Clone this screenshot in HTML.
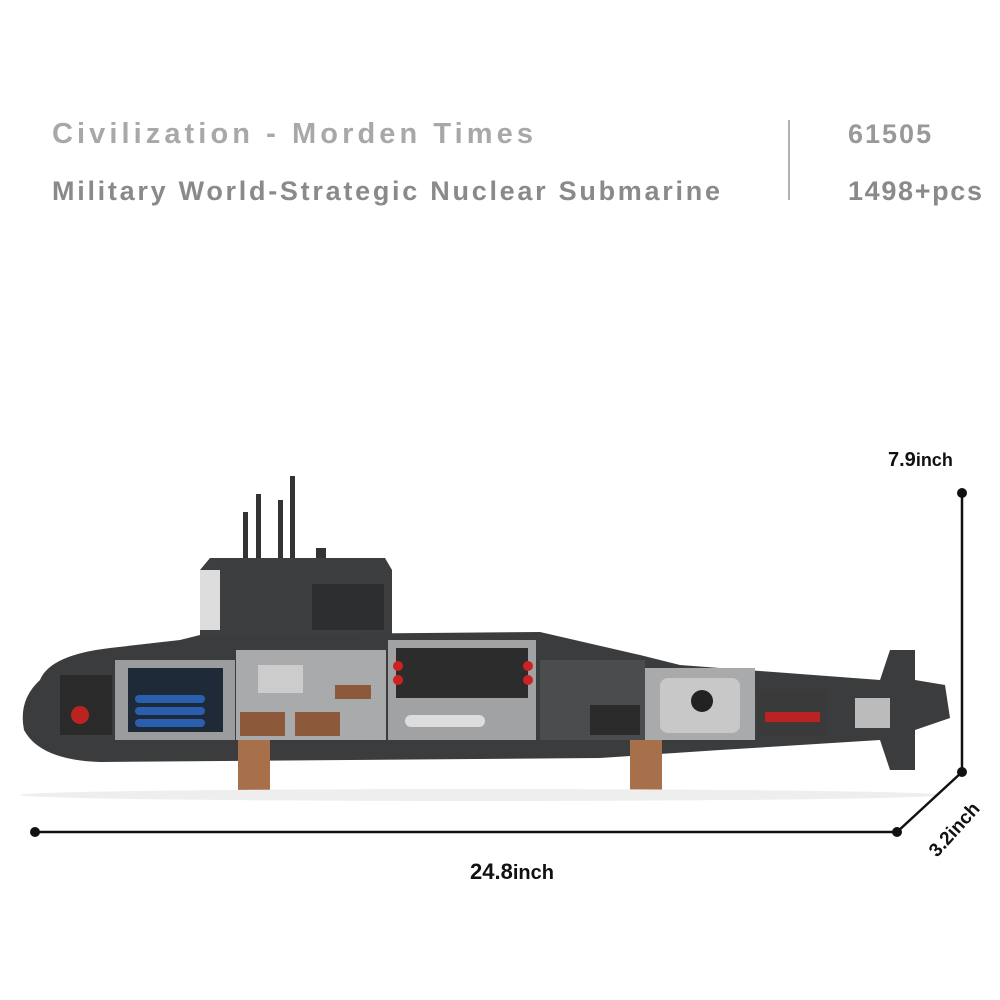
<!DOCTYPE html>
<html><head><meta charset="utf-8"><style>
html,body{margin:0;padding:0;background:#fff;width:1000px;height:1000px;overflow:hidden}
svg{display:block}
text{font-family:"Liberation Sans",sans-serif;font-weight:bold}
</style></head><body>
<svg width="1000" height="1000" viewBox="0 0 1000 1000">
<rect width="1000" height="1000" fill="#fff"/>
<text x="52" y="143" font-size="29" fill="#a8a8a8" textLength="481">Civilization - Morden Times</text>
<text x="52" y="200" font-size="27" fill="#8a8a8a" textLength="668">Military World-Strategic Nuclear Submarine</text>
<line x1="789" y1="120" x2="789" y2="200" stroke="#999" stroke-width="1.5"/>
<text x="848" y="143" font-size="27" fill="#999" letter-spacing="2">61505</text>
<text x="848" y="200" font-size="27" fill="#8a8a8a" textLength="134">1498+pcs</text>

<g fill="#333">
<rect x="243" y="512" width="5" height="50"/><rect x="256" y="494" width="5" height="68"/>
<rect x="278" y="500" width="5" height="62"/><rect x="290" y="476" width="5" height="86"/>
<rect x="316" y="548" width="10" height="16"/>
</g>
<path d="M200 570 L210 558 L385 558 L392 570 L392 640 L200 640 Z" fill="#3c3e40"/>
<rect x="200" y="570" width="20" height="60" fill="#ddd"/>
<rect x="312" y="584" width="72" height="46" fill="#2c2e30"/>
<path d="M40 680 Q50 655 110 648 L180 640 L200 635 L540 632 L640 655 L680 665 L880 680 L890 650 L915 650 L915 680 L945 685 L950 718 L915 730 L915 770 L890 770 L880 740 L720 750 L600 758 L100 762 Q40 760 24 730 Q18 700 40 680 Z" fill="#3a3c3e"/>
<rect x="60" y="675" width="52" height="60" fill="#2a2a2a"/>
<circle cx="80" cy="715" r="9" fill="#b22"/>
<rect x="115" y="660" width="120" height="80" fill="#9a9c9e"/>
<rect x="128" y="668" width="95" height="64" fill="#1f2a38"/>
<g fill="#2a5fb0"><rect x="135" y="695" width="70" height="8" rx="4"/><rect x="135" y="707" width="70" height="8" rx="4"/><rect x="135" y="719" width="70" height="8" rx="4"/></g>
<rect x="236" y="650" width="150" height="90" fill="#a8aaac"/>
<rect x="258" y="665" width="45" height="28" fill="#ccc"/>
<g fill="#8c5a3a"><rect x="240" y="712" width="45" height="24"/><rect x="295" y="712" width="45" height="24"/><rect x="335" y="685" width="36" height="14"/></g>
<rect x="388" y="640" width="148" height="100" fill="#a0a2a4"/>
<rect x="396" y="648" width="132" height="50" fill="#2c2c2c"/>
<g fill="#c22"><circle cx="398" cy="666" r="5"/><circle cx="398" cy="680" r="5"/><circle cx="528" cy="666" r="5"/><circle cx="528" cy="680" r="5"/></g>
<rect x="405" y="715" width="80" height="12" rx="6" fill="#ddd"/>
<rect x="540" y="660" width="105" height="80" fill="#4a4c4e"/>
<rect x="590" y="705" width="50" height="30" fill="#2b2b2b"/>
<rect x="645" y="668" width="110" height="72" fill="#a8aaac"/>
<rect x="660" y="678" width="80" height="55" rx="8" fill="#c8c8c8"/>
<circle cx="702" cy="701" r="11" fill="#222"/>
<rect x="758" y="690" width="70" height="45" fill="#3a3a3a"/>
<rect x="765" y="712" width="55" height="10" fill="#b22"/>
<rect x="855" y="698" width="35" height="30" fill="#bbb"/>
<g fill="#a8704a"><rect x="238" y="740" width="32" height="55"/><rect x="630" y="740" width="32" height="55"/></g>
<ellipse cx="480" cy="795" rx="460" ry="6" fill="#eee"/>

<g stroke="#111" stroke-width="2.5" fill="none">
<line x1="35" y1="832" x2="897" y2="832"/>
<line x1="962" y1="493" x2="962" y2="772"/>
<line x1="897" y1="832" x2="962" y2="772"/>
</g>
<g fill="#111"><circle cx="35" cy="832" r="5"/><circle cx="897" cy="832" r="5"/><circle cx="962" cy="493" r="5"/><circle cx="962" cy="772" r="5"/></g>
<text x="888" y="466" font-size="20" fill="#111">7.9<tspan font-size="18">inch</tspan></text>
<text x="470" y="879" font-size="22" fill="#111">24.8<tspan font-size="20">inch</tspan></text>
<text x="0" y="0" font-size="19" fill="#111" transform="translate(937 858) rotate(-48)">3.2inch</text>
</svg>
</body></html>
